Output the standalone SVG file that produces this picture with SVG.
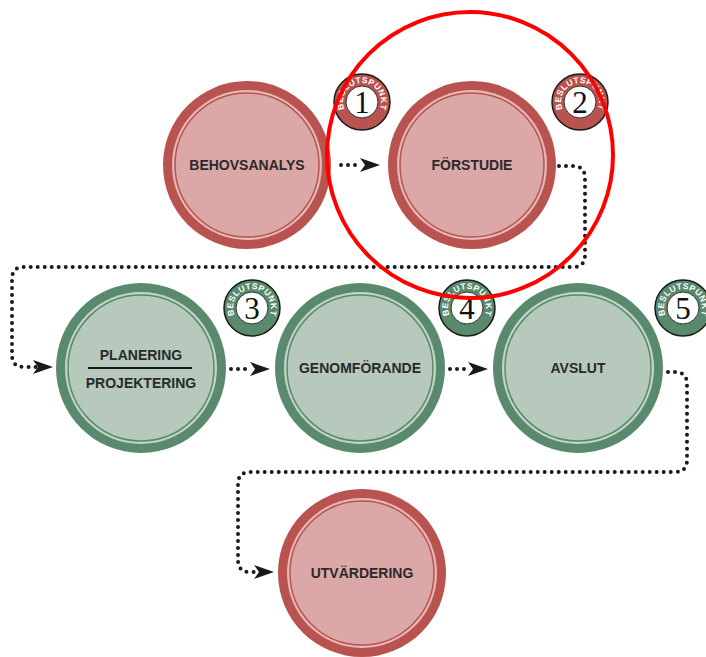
<svg xmlns="http://www.w3.org/2000/svg" xmlns:xlink="http://www.w3.org/1999/xlink" width="706" height="657" viewBox="0 0 706 657">
<style>
.lbl{font-family:"Liberation Sans",Arial,sans-serif;font-weight:bold;font-size:14px;fill:#2a2a2a;text-anchor:middle}
.r-out{fill:#b8534f}.r-mid{fill:#e6b8b7}.r-in{fill:#dba8a7;stroke:#b8534f;stroke-width:1.5}
.g-out{fill:#5a8a6d}.g-mid{fill:#c3d5c9}.g-in{fill:#b6c9bc;stroke:#5a8a6d;stroke-width:1.5}
.dots{fill:none;stroke:#1a1a1a;stroke-width:4;stroke-linecap:round;stroke-dasharray:0 7}
.bp{font-family:"Liberation Sans",Arial,sans-serif;font-weight:bold;font-size:8.5px;fill:#ffffff;letter-spacing:0.4px}
.num{font-family:"Liberation Serif","Times New Roman",serif;font-size:31px;fill:#111;text-anchor:middle}
.b-ring{stroke:#1a1a1a;stroke-width:1.5}
.b-in{fill:#ffffff;stroke:#333;stroke-width:1}
</style>
<defs>
<path id="arc" d="M -16.5 9.5 A 19 19 0 1 1 16.5 9.5"/>
<marker id="ah" markerUnits="userSpaceOnUse" viewBox="0 0 20 14" refX="20" refY="7" markerWidth="20" markerHeight="14" orient="auto">
<path d="M0,0 L20,7 L0,14 L5,7 z" fill="#1a1a1a"/>
</marker>
</defs>

<g id="connectors">
<path class="dots" d="M 341 165 L 362 165" />
<path d="M 360 165 L 380 165" stroke="none" fill="none" marker-end="url(#ah)"/>
<path class="dots" d="M 559 166 L 573 166 Q 585 166 585 178 L 585 255 Q 585 267 573 267 L 24 267 Q 12 267 12 279 L 12 355 Q 12 367 24 367 L 40 367"/>
<path d="M 33 367 L 53 367" fill="none" marker-end="url(#ah)"/>
<path class="dots" d="M 231 369 L 252 369"/>
<path d="M 250 369 L 270 369" fill="none" marker-end="url(#ah)"/>
<path class="dots" d="M 450 369 L 470 369"/>
<path d="M 468 369 L 488 369" fill="none" marker-end="url(#ah)"/>
<path class="dots" d="M 668 372 L 675 372 Q 687 372 687 384 L 687 460 Q 687 472 675 472 L 250 472 Q 238 472 238 484 L 238 560 Q 238 572 250 572 L 258 572"/>
<path d="M 254 572 L 274 572" fill="none" marker-end="url(#ah)"/>
</g>

<g id="behovsanalys">
<circle class="r-out" cx="247" cy="165" r="84"/><circle class="r-mid" cx="247" cy="165" r="75"/><circle class="r-in" cx="247" cy="165" r="72"/>
<text class="lbl" x="247" y="170">BEHOVSANALYS</text>
</g>
<g id="forstudie">
<circle class="r-out" cx="472" cy="165" r="84"/><circle class="r-mid" cx="472" cy="165" r="75"/><circle class="r-in" cx="472" cy="165" r="72"/>
<text class="lbl" x="472" y="170">FÖRSTUDIE</text>
</g>
<g id="planering">
<circle class="g-out" cx="141" cy="368" r="85"/><circle class="g-mid" cx="141" cy="368" r="76"/><circle class="g-in" cx="141" cy="368" r="73"/>
<text class="lbl" x="141" y="360">PLANERING</text>
<line x1="88" y1="368" x2="192" y2="368" stroke="#1a1a1a" stroke-width="2"/>
<text class="lbl" x="141" y="388">PROJEKTERING</text>
</g>
<g id="genomforande">
<circle class="g-out" cx="360" cy="368" r="85"/><circle class="g-mid" cx="360" cy="368" r="76"/><circle class="g-in" cx="360" cy="368" r="73"/>
<text class="lbl" x="360" y="373">GENOMFÖRANDE</text>
</g>
<g id="avslut">
<circle class="g-out" cx="578" cy="368" r="85"/><circle class="g-mid" cx="578" cy="368" r="76"/><circle class="g-in" cx="578" cy="368" r="73"/>
<text class="lbl" x="578" y="373">AVSLUT</text>
</g>
<g id="utvardering">
<circle class="r-out" cx="362" cy="573" r="84"/><circle class="r-mid" cx="362" cy="573" r="75"/><circle class="r-in" cx="362" cy="573" r="72"/>
<text class="lbl" x="362" y="578">UTVÄRDERING</text>
</g>

<g id="badge1" transform="translate(362,102)">
<circle class="b-ring" r="28" fill="#b8534f"/><circle class="b-in" r="16"/>
<text class="bp"><textPath xlink:href="#arc" href="#arc" startOffset="50%" text-anchor="middle">BESLUTSPUNKT</textPath></text>
<text class="num" y="11">1</text>
</g>
<g id="badge2" transform="translate(580,102)">
<circle class="b-ring" r="28" fill="#b8534f"/><circle class="b-in" r="16"/>
<text class="bp"><textPath xlink:href="#arc" href="#arc" startOffset="50%" text-anchor="middle">BESLUTSPUNKT</textPath></text>
<text class="num" y="11">2</text>
</g>
<g id="badge3" transform="translate(252,308)">
<circle class="b-ring" r="28" fill="#5a8a6d"/><circle class="b-in" r="16"/>
<text class="bp"><textPath xlink:href="#arc" href="#arc" startOffset="50%" text-anchor="middle">BESLUTSPUNKT</textPath></text>
<text class="num" y="11">3</text>
</g>
<g id="badge4" transform="translate(467,308)">
<circle class="b-ring" r="28" fill="#5a8a6d"/><circle class="b-in" r="16"/>
<text class="bp"><textPath xlink:href="#arc" href="#arc" startOffset="50%" text-anchor="middle">BESLUTSPUNKT</textPath></text>
<text class="num" y="11">4</text>
</g>
<g id="badge5" transform="translate(683,308)">
<circle class="b-ring" r="28" fill="#5a8a6d"/><circle class="b-in" r="16"/>
<text class="bp"><textPath xlink:href="#arc" href="#arc" startOffset="50%" text-anchor="middle">BESLUTSPUNKT</textPath></text>
<text class="num" y="11">5</text>
</g>

<g id="highlight">
<circle cx="470" cy="155" r="143" fill="none" stroke="#ff0000" stroke-width="4"/>
</g>
</svg>
